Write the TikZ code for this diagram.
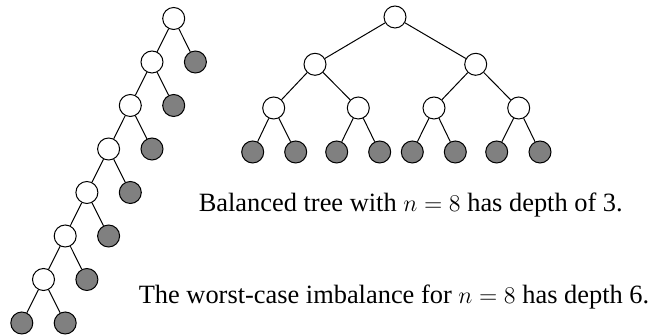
\documentclass[tikz,border=0pt]{standalone}
\usepackage{fontspec}
\setmainfont{Liberation Serif}

\tikzset{
  inner/.style={circle,draw,fill=white,minimum size=11pt,inner sep=0pt},
  leaf/.style={inner,fill=gray},
  caption/.style={anchor=base west,inner sep=0pt,font=\fontsize{13.2}{16}\selectfont}
}

\begin{document}
\begin{tikzpicture}[x=.5pt,y=-.5pt,line width=.5pt]
 \useasboundingbox (0,0) rectangle (658,335);
 % worst-case chain
 \foreach \i in {0,...,6} {
   \node[inner] (c\i) at ({173.7-21.7*\i},{18.5+43.5*\i}) {};
   \node[leaf] (r\i) at ({195.4-21.7*\i},{62+43.5*\i}) {};
   \draw (c\i) -- (r\i);
 }
 \foreach \i [count=\j from 1] in {0,...,5} \draw (c\i) -- (c\j);
 \node[leaf] (l6) at (21.8,323) {};
 \draw (c6) -- (l6);
 % balanced tree
 \node[inner] (b) at (395,17) {};
 \node[inner] (b0) at (315,64.3) {};
 \node[inner] (b1) at (475.7,64.3) {};
 \node[inner] (b00) at (273.7,108) {};
 \node[inner] (b01) at (358.3,108) {};
 \node[inner] (b10) at (434,108) {};
 \node[inner] (b11) at (518.7,108) {};
 \foreach \x [count=\k from 1] in {252.7,295.7,336.7,379.7,412.3,455.3,496.7,540}
   \node[leaf] (f\k) at (\x,152) {};
 \draw (b) -- (b0) (b) -- (b1);
 \draw (b0) -- (b00) (b0) -- (b01) (b1) -- (b10) (b1) -- (b11);
 \draw (b00) -- (f1) (b00) -- (f2) (b01) -- (f3) (b01) -- (f4);
 \draw (b10) -- (f5) (b10) -- (f6) (b11) -- (f7) (b11) -- (f8);
 % captions
 \node[caption] (bal) at (198.3,211.7) {Balanced tree with $n=8$ has depth of 3.};
 \node[caption] (worst) at (138.3,303.3) {The worst-case imbalance for $n=8$ has depth 6.};
\end{tikzpicture}
\end{document}
